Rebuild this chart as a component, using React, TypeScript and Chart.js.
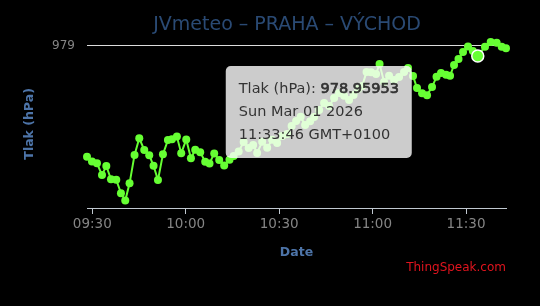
import React, { useEffect, useRef } from 'react';
import Chart from 'chart.js/auto';

const TITLE = 'JVmeteo – PRAHA – VÝCHOD';
const Y_TITLE = 'Tlak (hPa)';
const X_TITLE = 'Date';
const CREDIT = 'ThingSpeak.com';

const times = [
  '09:28:18', '09:29:54', '09:31:30', '09:33:07', '09:34:30', '09:36:00', '09:37:42', '09:39:12', '09:40:35', '09:41:58',
  '09:43:34', '09:45:05', '09:46:41', '09:48:17', '09:49:40', '09:51:05', '09:52:41', '09:54:17', '09:55:34', '09:57:10',
  '09:58:33', '10:00:10', '10:01:40', '10:03:03', '10:04:39', '10:06:15', '10:07:38', '10:09:09', '10:10:45', '10:12:21',
  '10:14:03', '10:15:24', '10:17:00', '10:18:36', '10:20:13', '10:21:39', '10:22:56', '10:24:33', '10:26:09', '10:27:45',
  '10:29:21', '10:30:58', '10:32:34', '10:34:00', '10:35:27', '10:36:54', '10:38:20', '10:39:57', '10:41:14', '10:42:50',
  '10:44:26', '10:46:02', '10:47:39', '10:49:15', '10:50:51', '10:52:27', '10:53:54', '10:55:21', '10:56:38', '10:58:04',
  '10:59:31', '11:01:07', '11:02:14', '11:03:41', '11:05:17', '11:06:54', '11:08:30', '11:10:06', '11:11:23', '11:12:59',
  '11:14:16', '11:15:53', '11:17:29', '11:19:05', '11:20:32', '11:21:58', '11:23:35', '11:24:52', '11:26:09', '11:27:35',
  '11:29:02', '11:30:38', '11:32:12', '11:33:46', '11:36:05', '11:37:55', '11:39:50', '11:41:27', '11:42:50',
];

const pressure = [
  978.552, 978.532, 978.525, 978.478, 978.514, 978.460, 978.458, 978.404, 978.374, 978.444,
  978.559, 978.626, 978.579, 978.558, 978.515, 978.457, 978.562, 978.619, 978.622, 978.633,
  978.566, 978.621, 978.545, 978.580, 978.570, 978.531, 978.524, 978.565, 978.538, 978.516,
  978.539, 978.555, 978.573, 978.611, 978.587, 978.599, 978.567, 978.612, 978.588, 978.620,
  978.607, 978.636, 978.644, 978.676, 978.696, 978.713, 978.680, 978.695, 978.712, 978.741,
  978.769, 978.757, 978.789, 978.810, 978.798, 978.781, 978.802, 978.826, 978.838, 978.895,
  978.894, 978.887, 978.927, 978.854, 978.879, 978.862, 978.874, 978.895, 978.911, 978.878,
  978.830, 978.809, 978.801, 978.834, 978.875, 978.891, 978.883, 978.879, 978.923, 978.947,
  978.976, 978.998, 978.980, 978.95953, 978.997, 979.016, 979.013, 978.997, 978.991,
];

const yTicks = [979];
const xTickLabels = ['09:30', '10:00', '10:30', '11:00', '11:30'];
const yMin = 978.344;
const yMax = 979.025;

const highlightTime = '11:33:46';
const tooltipLabel = 'Tlak (hPa): ';
const tooltipDate = 'Sun Mar 01 2026';
const tooltipZone = 'GMT+0100';

const FONT = '"DejaVu Sans", sans-serif';
const GREEN = '#66ff33';

const toSec = (s: string) => {
  const [h, m, sec] = s.split(':').map(Number);
  return h * 3600 + m * 60 + (sec || 0);
};
const pad = (n: number) => String(n).padStart(2, '0');
const fmt = (sec: number) => pad(Math.floor(sec / 3600)) + ':' + pad(Math.floor((sec % 3600) / 60));

const overlay = {
  id: 'overlay',
  afterDatasetsDraw(chart: any) {
    const ctx = chart.ctx;
    const idx = times.indexOf(highlightTime);
    const px = chart.scales.x.getPixelForValue(toSec(times[idx]));
    const py = chart.scales.y.getPixelForValue(pressure[idx]);
    ctx.save();
    ctx.beginPath();
    ctx.arc(px, py, 6, 0, Math.PI * 2);
    ctx.fillStyle = GREEN;
    ctx.fill();
    ctx.lineWidth = 1.5;
    ctx.strokeStyle = '#ffffff';
    ctx.stroke();
    ctx.restore();
  },
  afterDraw(chart: any) {
    const ctx = chart.ctx;
    const area = chart.chartArea;
    ctx.save();
    // title
    ctx.font = '19px ' + FONT;
    ctx.fillStyle = '#2a4a74';
    ctx.textAlign = 'center';
    ctx.textBaseline = 'alphabetic';
    ctx.fillText(TITLE, 287, 29.5);
    // credit
    ctx.font = '12px ' + FONT;
    ctx.fillStyle = '#e0141e';
    ctx.textAlign = 'right';
    ctx.fillText(CREDIT, area.right, 271);

    // tooltip
    const idx = times.indexOf(highlightTime);
    const px = chart.scales.x.getPixelForValue(toSec(times[idx]));
    const py = chart.scales.y.getPixelForValue(pressure[idx]);
    const bx = px - 252;
    const by = py + 10;
    const bw = 186;
    const bh = 92;
    ctx.beginPath();
    ctx.roundRect(bx, by, bw, bh, 5);
    ctx.fillStyle = 'rgba(255,255,255,0.8)';
    ctx.fill();
    ctx.fillStyle = '#333333';
    ctx.strokeStyle = '#333333';
    ctx.textAlign = 'left';
    const tx = bx + 13;
    ctx.font = '14.5px ' + FONT;
    ctx.fillText(tooltipLabel, tx, by + 27.3);
    const w = ctx.measureText(tooltipLabel).width;
    const num = String(pressure[idx]);
    ctx.fillText(num, tx + w, by + 27.3);
    ctx.lineWidth = 0.7;
    ctx.strokeText(num, tx + w, by + 27.3);
    ctx.fillText(tooltipDate, tx, by + 50.3);
    ctx.fillText(highlightTime + ' ' + tooltipZone, tx, by + 73.3);
    ctx.restore();
  },
};

export default function App() {
  const ref = useRef<HTMLCanvasElement>(null);
  useEffect(() => {
    document.body.style.background = '#000';
    const chart = new Chart(ref.current as HTMLCanvasElement, {
      type: 'line',
      data: {
        datasets: [
          {
            data: times.map((t, i) => ({ x: toSec(t), y: pressure[i] })),
            borderColor: GREEN,
            backgroundColor: GREEN,
            borderWidth: 2,
            pointRadius: 4,
            pointBackgroundColor: GREEN,
            pointBorderWidth: 0,
            pointHoverRadius: 4,
            tension: 0,
            clip: false,
          } as any,
        ],
      },
      options: {
        animation: false,
        responsive: false,
        events: [],
        layout: { padding: { top: 39.8, right: 34, bottom: 0, left: 0 } },
        plugins: {
          legend: { display: false },
          tooltip: { enabled: false },
          title: { display: false },
        },
        scales: {
          x: {
            type: 'linear',
            min: toSec(times[0]),
            max: toSec(times[times.length - 1]),
            afterBuildTicks: (s: any) => {
              s.ticks = xTickLabels.map((l) => ({ value: toSec(l) }));
            },
            afterFit: (s: any) => {
              s.height = 98;
            },
            ticks: {
              callback: (v: any) => fmt(Number(v)),
              color: '#858585',
              font: { family: FONT, size: 13.5 },
              padding: 2,
              maxRotation: 0,
              autoSkip: false,
            },
            grid: { drawOnChartArea: false, drawTicks: true, tickLength: 6, color: '#c0c8d0', tickColor: '#c0c8d0' },
            border: { display: true, color: '#c0c8d0', width: 1 },
            title: {
              display: true,
              text: X_TITLE,
              color: '#4d74a8',
              font: { family: FONT, size: 12.5, weight: 'bold' },
              padding: { top: 0, bottom: 46 },
            },
          },
          y: {
            min: yMin,
            max: yMax,
            afterBuildTicks: (s: any) => {
              s.ticks = yTicks.map((v) => ({ value: v }));
            },
            afterFit: (s: any) => {
              s.width = 87;
            },
            ticks: {
              color: '#858585',
              font: { family: FONT, size: 12 },
              padding: 12,
              callback: (v: any) => String(v),
            },
            grid: { drawTicks: false, color: '#dcdcdc', lineWidth: 1 },
            border: { display: false },
            title: {
              display: true,
              text: Y_TITLE,
              color: '#4d74a8',
              font: { family: FONT, size: 12.5, weight: 'bold' },
              padding: { top: 22, bottom: 0 },
            },
          },
        },
      } as any,
      plugins: [overlay],
    });
    return () => chart.destroy();
  }, []);
  return (
    <div style={{ position: 'absolute', left: 0, top: 0, width: 540, height: 306, background: '#000' }}>
      <canvas ref={ref} width={540} height={306} style={{ display: 'block' }} />
    </div>
  );
}
